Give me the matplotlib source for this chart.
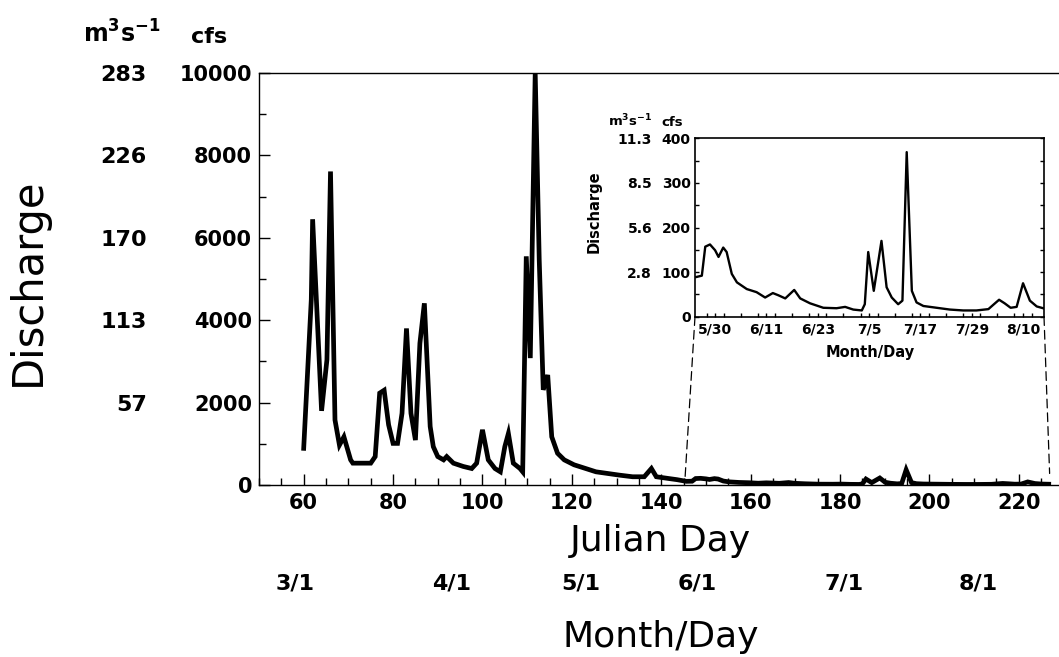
import matplotlib
matplotlib.use("Agg")
import matplotlib.pyplot as plt
from matplotlib.patches import ConnectionPatch
from matplotlib.ticker import MultipleLocator

plt.rcParams['font.family'] = ['DejaVu Sans']

# ---------------- data ----------------
# main hydrograph (Julian day, discharge in cfs)
main_day = [60, 61.7, 62, 64, 65.2, 66, 67, 68, 69, 70.5, 71, 73.4, 75, 76, 77, 78,
            79, 80, 81, 82, 83, 84, 85, 86, 87, 88.3, 89, 90, 91.3, 92, 93.5, 95.7,
            97.6, 98.7, 100, 101.3, 102.8, 104, 105, 105.8, 106.9, 108.4, 109, 109.8,
            110.7, 111.8, 112.7, 113.6, 114.6, 115.5, 116.8, 118.3, 120.5, 123.1,
            125.4, 128, 130.6, 133.6, 136.2, 137.8, 138.9, 141.5, 143.5]
main_q = [890, 4500, 6450, 1800, 3040, 7610, 1580, 970, 1170, 610, 530, 530, 530, 690,
          2230, 2300, 1460, 1010, 1010, 1740, 3800, 1740, 1090, 3440, 4410, 1420, 930,
          690, 610, 690, 530, 450, 400, 530, 1340, 610, 400, 320, 930, 1250, 530, 400,
          320, 5550, 3080, 10000, 5470, 2310, 2670, 1170, 770, 610, 490, 400, 320, 280,
          240, 200, 200, 400, 200, 160, 130]

# inset (late spring / summer detail), Julian day and cfs
inset_day = [145.6, 146.9, 147.7, 148.8, 150, 150.8, 151.9, 152.7, 153.9, 155.1, 157.4,
             159.7, 161.7, 163.5, 164.8, 166.4, 168.5, 169.9, 172.2, 175.3, 178.4,
             180.4, 182.3, 184.3, 185, 185.8, 187.1, 188.9, 190.1, 191.3, 192.8, 193.8,
             194.8, 196, 197.1, 198.7, 201.8, 204.9, 208, 211.1, 213.9, 215.2, 216.4,
             217.7, 219.1, 220.5, 222, 223.6, 225.2, 226.7]
inset_q = [89, 92, 157, 162, 149, 134, 155, 145, 96, 77, 62, 55, 43, 53, 48, 41, 60, 41,
           30, 20, 19, 22, 16, 14, 28, 145, 58, 170, 66, 43, 28, 36, 369, 58, 32, 24,
           20, 16, 14, 14, 17, 28, 38, 30, 20, 22, 75, 36, 23, 19]

# axis tick values / labels
main_xticks = [60, 80, 100, 120, 140, 160, 180, 200, 220]
main_yticks_cfs = [0, 2000, 4000, 6000, 8000, 10000]
main_yticks_si = ['57', '113', '170', '226', '283']
month_labels = ['3/1', '4/1', '5/1', '6/1', '7/1', '8/1']
month_label_pos = [58, 93, 122, 148, 181, 211]

inset_xtick_days = [150, 162, 174, 186, 198, 210, 222]
inset_xtick_labels = ['5/30', '6/11', '6/23', '7/5', '7/17', '7/29', '8/10']
inset_yticks_cfs = [0, 100, 200, 300, 400]
inset_yticks_si = ['2.8', '5.6', '8.5', '11.3']

# ---------------- figure ----------------
W, H = 1059, 657
fig = plt.figure(figsize=(W / 100, H / 100), dpi=100)
fig.patch.set_facecolor('white')

def fx(px):
    return px / W

def fy(py):
    return 1 - py / H

ax = fig.add_axes([fx(259), fy(485), fx(1059 - 259), (485 - 73) / H])
all_day = main_day + inset_day
all_q = main_q + inset_q
ax.plot(all_day, all_q, color='black', lw=3.4, solid_joinstyle='miter')
ax.set_xlim(50, 229)
ax.set_ylim(0, 10000)
ax.spines['right'].set_visible(False)
for s in ['left', 'bottom', 'top']:
    ax.spines[s].set_linewidth(1.0)
ax.set_xticks(main_xticks)
ax.xaxis.set_minor_locator(MultipleLocator(5))
ax.set_yticks(main_yticks_cfs)
ax.yaxis.set_minor_locator(MultipleLocator(1000))
ax.tick_params(axis='both', which='major', direction='in', length=8, width=1,
               labelsize=15)
ax.tick_params(axis='both', which='minor', direction='in', length=5, width=1)
ax.tick_params(axis='y', pad=5)
ax.tick_params(axis='x', pad=6)
for lab in ax.get_xticklabels() + ax.get_yticklabels():
    lab.set_fontweight('bold')

# SI units column
sec_y = ax.secondary_yaxis(-0.14)
sec_y.set_yticks(main_yticks_cfs[1:], labels=main_yticks_si)
sec_y.spines['left'].set_visible(False)
sec_y.tick_params(axis='y', length=0, pad=0, labelsize=16)
for lab in sec_y.get_yticklabels():
    lab.set_fontweight('bold')

# month/day row
sec_x = ax.secondary_xaxis(-0.215)
sec_x.set_xticks(month_label_pos, labels=month_labels)
sec_x.spines['bottom'].set_visible(False)
sec_x.tick_params(axis='x', length=0, pad=0, labelsize=16)
for lab in sec_x.get_xticklabels():
    lab.set_fontweight('bold')

fig.text(fx(660), fy(541), 'Julian Day', fontsize=26, ha='center', va='center')
fig.text(fx(661), fy(637), 'Month/Day', fontsize=26, ha='center', va='center')
fig.text(fx(28), fy(282), 'Discharge', fontsize=30, rotation=90,
         ha='center', va='center')
fig.text(fx(122), fy(34), r'$\mathregular{m^3s^{-1}}$', fontsize=17,
         fontweight='bold', ha='center', va='center')
fig.text(fx(209), fy(37), 'cfs', fontsize=16, fontweight='bold',
         ha='center', va='center')

# ---------------- inset ----------------
axi = fig.add_axes([fx(695), fy(316.7), fx(1044 - 695), (316.7 - 138.3) / H])
axi.set_facecolor('white')
axi.plot(inset_day, inset_q, color='black', lw=1.7)
axi.set_xlim(145.3, 226.9)
axi.set_ylim(0, 400)
for s in axi.spines.values():
    s.set_linewidth(1.2)
axi.set_xticks(inset_xtick_days, labels=inset_xtick_labels)
axi.xaxis.set_minor_locator(MultipleLocator(4))
axi.set_yticks(inset_yticks_cfs)
axi.yaxis.set_minor_locator(MultipleLocator(50))
axi.tick_params(axis='both', which='both', direction='in', length=3, width=1,
                labelsize=10, right=True)
axi.tick_params(axis='x', pad=4)
axi.tick_params(axis='y', pad=3)
for lab in axi.get_xticklabels() + axi.get_yticklabels():
    lab.set_fontweight('bold')

sec_yi = axi.secondary_yaxis(-0.123)
sec_yi.set_yticks(inset_yticks_cfs[1:], labels=inset_yticks_si)
sec_yi.spines['left'].set_visible(False)
sec_yi.tick_params(axis='y', length=0, pad=0, labelsize=10)
for lab in sec_yi.get_yticklabels():
    lab.set_fontweight('bold')

fig.text(fx(870), fy(352), 'Month/Day', fontsize=10.5, fontweight='bold',
         ha='center', va='center')
fig.text(fx(594), fy(212), 'Discharge', fontsize=10.5, fontweight='bold',
         rotation=90, ha='center', va='center')
fig.text(fx(630), fy(121), r'$\mathregular{m^3s^{-1}}$', fontsize=9.5,
         fontweight='bold', ha='center', va='center')
fig.text(fx(672), fy(123), 'cfs', fontsize=9.5, fontweight='bold',
         ha='center', va='center')

# dashed connectors from inset to main axis
for xa, xb, yb in [(0, axi.get_xlim()[0], 120), (1, axi.get_xlim()[1], 280)]:
    con = ConnectionPatch(xyA=(xa, 0), coordsA=axi.transAxes,
                          xyB=(xb, yb), coordsB=ax.transData,
                          color='black', lw=0.9, linestyle=(0, (7, 4)))
    fig.add_artist(con)

fig.savefig('out.png', dpi=100, facecolor='white')
